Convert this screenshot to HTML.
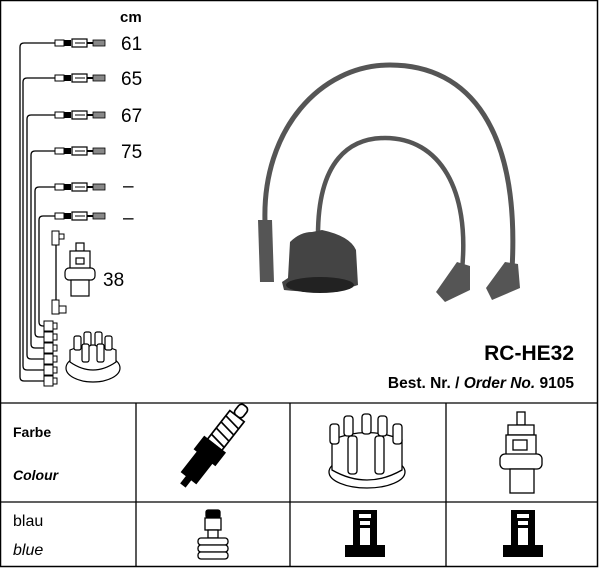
<!DOCTYPE html>
<html><head><meta charset="utf-8"><style>
body{margin:0;background:#fff}
svg{display:block}
text{font-family:"Liberation Sans",sans-serif}
</style></head><body>
<svg width="600" height="568" viewBox="0 0 600 568" xmlns="http://www.w3.org/2000/svg">
<defs>
<g id="conn">
<rect x="0" y="-3" width="9" height="6" fill="#fff" stroke="#000" stroke-width="1"/>
<rect x="9" y="-3" width="7" height="6" fill="#000"/>
<rect x="17" y="-4" width="15" height="8" fill="#fff" stroke="#000" stroke-width="1.2"/>
<line x1="20" y1="0" x2="30" y2="0" stroke="#000"/>
<line x1="32" y1="0" x2="38" y2="0" stroke="#000" stroke-width="2"/>
<rect x="38" y="-3" width="12" height="6" fill="#888" stroke="#000" stroke-width="0.8"/>
</g>
<g id="bootS"><rect x="0" y="-5" width="9" height="10" fill="#fff" stroke="#000"/><rect x="9" y="-3" width="4" height="6" fill="#fff" stroke="#000"/></g>
</defs>
<rect x="0.5" y="0.5" width="597" height="566" fill="none" stroke="#000" stroke-width="1.5"/>
<g fill="none" stroke="#000" stroke-width="1.3">
<path d="M55 43 H24 Q20 43 20 47 V377 Q20 381 24 381 H45"/>
<path d="M55 78 H27 Q23 78 23 82 V366 Q23 370 27 370 H45"/>
<path d="M55 115 H31 Q27 115 27 119 V355 Q27 359 31 359 H45"/>
<path d="M55 151 H35 Q31 151 31 155 V344 Q31 348 35 348 H45"/>
<path d="M55 187 H39 Q35 187 35 191 V333 Q35 337 39 337 H45"/>
<path d="M55 216 H43 Q39 216 39 220 V322 Q39 326 43 326 H45"/>
<line x1="56" y1="240" x2="56" y2="305"/>
</g>
<use href="#conn" x="55" y="43"/><use href="#conn" x="55" y="78"/><use href="#conn" x="55" y="115"/>
<use href="#conn" x="55" y="151"/><use href="#conn" x="55" y="187"/><use href="#conn" x="55" y="216"/>
<use href="#bootS" x="44" y="381"/><use href="#bootS" x="44" y="370"/><use href="#bootS" x="44" y="359"/>
<use href="#bootS" x="44" y="348"/><use href="#bootS" x="44" y="337"/><use href="#bootS" x="44" y="326"/>
<rect x="52" y="231" width="7" height="14" fill="#fff" stroke="#000"/><rect x="59" y="234" width="5" height="5" fill="#fff" stroke="#000"/>
<rect x="52" y="300" width="7" height="14" fill="#fff" stroke="#000"/><rect x="59" y="306" width="7" height="7" fill="#fff" stroke="#000"/>
<g fill="#fff" stroke="#000" stroke-width="1.2">
<rect x="76" y="243" width="8" height="8"/>
<rect x="70" y="251" width="20" height="22"/>
<rect x="65" y="268" width="30" height="12" rx="4"/>
<rect x="71" y="280" width="18" height="16"/>
<rect x="76" y="258" width="8" height="6"/>
</g>
<g fill="#fff" stroke="#000" stroke-width="1.2">
<ellipse cx="93" cy="368" rx="27" ry="14"/>
<path d="M70 362 V350 Q93 340 116 350 V362 Q93 378 70 362Z"/>
<rect x="74" y="336" width="7" height="14" rx="2"/><rect x="84" y="332" width="7" height="14" rx="2"/><rect x="95" y="332" width="7" height="14" rx="2"/><rect x="105" y="336" width="7" height="14" rx="2"/>
<rect x="82" y="344" width="7" height="18" rx="2"/><rect x="97" y="344" width="7" height="18" rx="2"/>
</g>
<g font-size="19" fill="#000">
<text x="120" y="22" font-size="15" font-weight="bold">cm</text>
<text x="121" y="50">61</text><text x="121" y="85">65</text><text x="121" y="122">67</text><text x="121" y="158">75</text>
<text x="123" y="192">–</text><text x="123" y="224">–</text><text x="103" y="286">38</text>
</g>
<g fill="none" stroke="#555" stroke-linecap="round">
<path d="M265 222 C262 130 320 65 390 65 C470 65 520 130 512 270" stroke-width="5"/>
<path d="M318 235 C318 160 350 138 385 138 C440 138 470 190 462 270" stroke-width="4.5"/>
</g>
<path d="M258 220 L272 220 L274 282 L260 282 Z" fill="#555"/>
<path d="M290 242 Q300 232 312 232 L322 230 Q350 236 356 250 L358 285 Q330 295 284 290 L282 282 L288 278 Z" fill="#444"/>
<ellipse cx="320" cy="285" rx="34" ry="8" fill="#222"/>
<path d="M457 262 L470 266 L470 290 L445 302 L436 292 Z" fill="#555"/>
<path d="M505 262 L518 264 L520 288 L492 300 L486 288 Z" fill="#555"/>
<text x="574" y="360" font-size="21" font-weight="bold" text-anchor="end">RC-HE32</text>
<text x="574" y="388" font-size="15.5" font-weight="bold" text-anchor="end">Best. Nr. / <tspan font-style="italic">Order No.</tspan> 9105</text>
<g stroke="#000" stroke-width="1.3">
<line x1="0" y1="403" x2="598" y2="403"/><line x1="0" y1="502" x2="598" y2="502"/>
<line x1="136" y1="403" x2="136" y2="567"/><line x1="290" y1="403" x2="290" y2="567"/><line x1="446" y1="403" x2="446" y2="567"/>
</g>
<text x="13" y="437" font-size="14" font-weight="bold">Farbe</text>
<text x="13" y="480" font-size="14" font-weight="bold" font-style="italic">Colour</text>
<text x="13" y="526" font-size="16">blau</text>
<text x="13" y="555" font-size="16" font-style="italic">blue</text>
<g transform="translate(209 452) rotate(38) scale(1.3)" stroke="#000" stroke-width="1.3" fill="#fff">
<rect x="-4" y="-45" width="8" height="10" rx="3"/>
<rect x="-7" y="-35" width="14" height="28"/>
<line x1="-7" y1="-30" x2="7" y2="-28"/><line x1="-7" y1="-24" x2="7" y2="-22"/><line x1="-7" y1="-18" x2="7" y2="-16"/><line x1="-7" y1="-12" x2="7" y2="-10"/>
<rect x="-10" y="-7" width="20" height="12" fill="#000"/>
<rect x="-7" y="5" width="14" height="20" fill="#000"/>
<rect x="-2" y="25" width="4" height="7" fill="#000"/>
</g>
<g fill="#fff" stroke="#000" stroke-width="1.3">
<ellipse cx="367" cy="472" rx="38" ry="16"/>
<path d="M332 470 V440 Q367 425 402 440 V470 Q367 490 332 470Z"/>
<rect x="330" y="424" width="9" height="20" rx="3"/><rect x="344" y="416" width="9" height="20" rx="3"/><rect x="362" y="414" width="9" height="20" rx="3"/><rect x="378" y="416" width="9" height="20" rx="3"/><rect x="393" y="424" width="9" height="20" rx="3"/>
<rect x="348" y="436" width="9" height="38" rx="3"/><rect x="375" y="436" width="9" height="38" rx="3"/>
</g>
<g fill="#fff" stroke="#000" stroke-width="1.3">
<rect x="517" y="412" width="8" height="13"/>
<rect x="508" y="425" width="26" height="10"/>
<rect x="506" y="435" width="30" height="25"/>
<rect x="513" y="440" width="14" height="10"/>
<rect x="500" y="454" width="42" height="15" rx="5"/>
<rect x="510" y="469" width="24" height="24"/>
</g>
<g fill="#fff" stroke="#000" stroke-width="1.3">
<rect x="206" y="510" width="14" height="8" rx="2" fill="#000"/>
<rect x="205" y="518" width="16" height="12"/>
<rect x="208" y="530" width="10" height="8"/>
<rect x="198" y="538" width="30" height="7" rx="3"/><rect x="198" y="545" width="30" height="7" rx="3"/><rect x="198" y="552" width="30" height="7" rx="3"/>
</g>
<g fill="#000">
<path d="M353 510 H377 V545 H385 V557 H345 V545 H353 Z"/>
<path d="M511 510 H535 V545 H543 V557 H503 V545 H511 Z"/>
</g>
<g fill="#fff"><rect x="359" y="514" width="12" height="4"/><rect x="360" y="521" width="10" height="4"/><rect x="360" y="528" width="10" height="17"/>
<rect x="517" y="514" width="12" height="4"/><rect x="518" y="521" width="10" height="4"/><rect x="518" y="528" width="10" height="17"/></g>
</svg>
</body></html>
